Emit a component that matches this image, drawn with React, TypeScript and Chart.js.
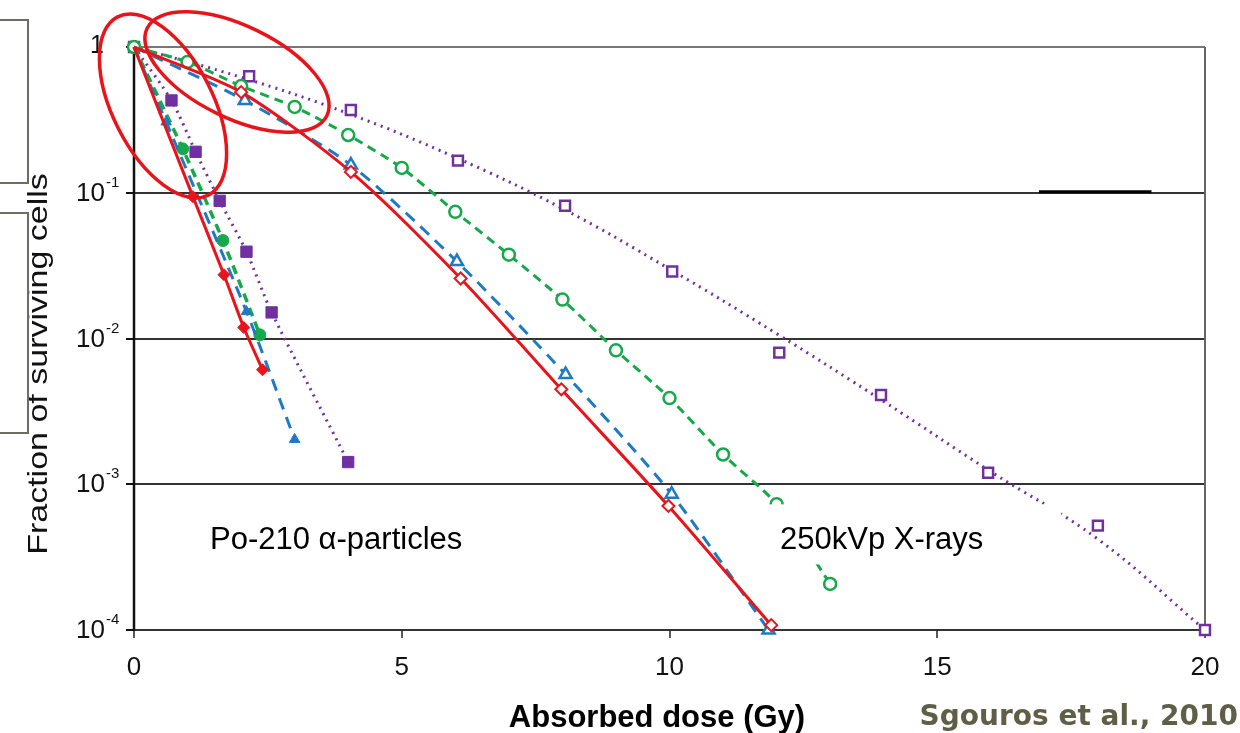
import { useEffect, useRef } from 'react';
import { Chart, registerables } from 'chart.js';

Chart.register(...registerables);

// ---- Data ----
// X-ray (250kVp) curves: measured points
const xPurpleDose = [0, 2.15, 4.05, 6.05, 8.05, 10.05, 12.05, 13.95, 15.95, 18.0, 20];
const xPurpleSurv = [1, 0.63, 0.37, 0.166, 0.0815, 0.0288, 0.008, 0.0041, 0.0012, 0.00052, 0.0001];
// X-ray purple fitted (dotted) curve
const xPurpleFitDose = [0, 2, 4, 6, 8, 10, 12, 14, 16, 18, 20];
const xPurpleFitSurv = [1, 0.62, 0.35, 0.175, 0.078, 0.03, 0.0108, 0.0037, 0.00122, 0.00042, 0.0001];

const xGreenDose = [0, 1, 2, 3, 4, 5, 6, 7, 8, 9, 10, 11, 12, 13];
const xGreenSurv = [1, 0.79, 0.54, 0.388, 0.249, 0.148, 0.074, 0.0376, 0.0185, 0.0083, 0.0039, 0.0016, 0.00073, 0.000207];

const xBlueDose = [0, 2.07, 4.05, 6.03, 8.06, 10.04, 11.85];
const xBlueSurv = [1, 0.43, 0.155, 0.0337, 0.00566, 0.000855, 0.0001];

const xRedDose = [0, 2, 4.05, 6.1, 7.98, 9.98, 11.9];
const xRedSurv = [1, 0.49, 0.139, 0.0258, 0.00448, 0.00071, 0.000108];

// Po-210 alpha-particle curves
const aPurpleDose = [0, 0.7, 1.15, 1.6, 2.1, 2.57, 4.0];
const aPurpleSurv = [1, 0.43, 0.191, 0.088, 0.0394, 0.0151, 0.00142];

const aGreenDose = [0, 0.91, 1.66, 2.35];
const aGreenSurv = [1, 0.2, 0.047, 0.0106];

const aBlueDose = [0, 0.6, 2.1, 3.0];
const aBlueSurv = [1, 0.306, 0.0153, 0.00203];

const aRedDose = [0, 1.1, 1.68, 2.05, 2.4];
const aRedSurv = [1, 0.094, 0.0274, 0.0119, 0.0061];

// Axis ticks
const X_TICKS = [0, 5, 10, 15, 20];
const Y_EXPONENTS = [0, -1, -2, -3, -4];

// Text
const Y_TITLE = 'Fraction of surviving cells';
const X_TITLE = 'Absorbed dose (Gy)';
const CITATION = 'Sgouros et al., 2010';
const ALPHA_LABEL = 'Po-210 \u03b1-particles';
const XRAY_LABEL = '250kVp X-rays';

const PURPLE = '#7030a0';
const GREEN = '#17a84a';
const BLUE = '#1f7ac4';
const RED = '#e8141b';
const SANS = '"Liberation Sans", Arial, sans-serif';

const pts = (xs: number[], ys: number[]) => xs.map((x, i) => ({ x, y: ys[i] }));

const decor = {
  id: 'decor',
  beforeDatasetsDraw(chart: any) {
    const { ctx, chartArea: a, scales } = chart;
    const x = scales.x;
    const y = scales.y;
    ctx.save();
    Y_EXPONENTS.forEach((e) => {
      const py = Math.round(y.getPixelForValue(Math.pow(10, e)));
      ctx.beginPath();
      ctx.strokeStyle = e === 0 ? '#777' : '#333';
      ctx.lineWidth = 2;
      ctx.moveTo(a.left, py);
      ctx.lineTo(a.right, py);
      ctx.stroke();
      ctx.beginPath();
      ctx.strokeStyle = '#111';
      ctx.moveTo(a.left - 8, py);
      ctx.lineTo(a.left, py);
      ctx.stroke();
    });
    ctx.beginPath();
    ctx.strokeStyle = '#666';
    ctx.lineWidth = 2;
    ctx.moveTo(a.right, a.top);
    ctx.lineTo(a.right, a.bottom);
    ctx.stroke();
    ctx.beginPath();
    ctx.strokeStyle = '#111';
    ctx.lineWidth = 2.5;
    ctx.moveTo(a.left, a.top);
    ctx.lineTo(a.left, a.bottom + 1);
    ctx.stroke();
    X_TICKS.forEach((v) => {
      const px = Math.round(x.getPixelForValue(v));
      ctx.beginPath();
      ctx.strokeStyle = '#222';
      ctx.lineWidth = 1.5;
      ctx.moveTo(px, a.bottom);
      ctx.lineTo(px, a.bottom + 8);
      ctx.stroke();
    });
    ctx.beginPath();
    ctx.strokeStyle = '#000';
    ctx.lineWidth = 3;
    ctx.moveTo(x.getPixelForValue(16.9), y.getPixelForValue(0.1) - 1);
    ctx.lineTo(x.getPixelForValue(19.0), y.getPixelForValue(0.1) - 1);
    ctx.stroke();
    ctx.restore();
  },
  afterDatasetsDraw(chart: any) {
    const { ctx, chartArea: a, scales } = chart;
    const x = scales.x;
    const y = scales.y;
    ctx.save();
    ctx.fillStyle = '#fff';
    const lx = x.getPixelForValue(11.9);
    const ly = y.getPixelForValue(0.0008);
    ctx.fillRect(lx - 12, ly + 6, 302, 60);
    ctx.fillStyle = '#000';
    ctx.font = `31px ${SANS}`;
    ctx.textBaseline = 'middle';
    ctx.textAlign = 'left';
    ctx.fillText(XRAY_LABEL, 780, 540);
    ctx.fillText(ALPHA_LABEL, 210, 540);

    Y_EXPONENTS.forEach((e) => {
      const py = y.getPixelForValue(Math.pow(10, e));
      ctx.fillStyle = '#111';
      ctx.textBaseline = 'middle';
      if (e === 0) {
        ctx.font = `25px ${SANS}`;
        ctx.textAlign = 'right';
        ctx.fillText('1', a.left - 30, py - 1);
      } else {
        ctx.font = `26px ${SANS}`;
        ctx.textAlign = 'right';
        ctx.fillText('10', a.left - 29, py + 1);
        ctx.font = `15px ${SANS}`;
        ctx.textAlign = 'left';
        ctx.fillText(String(e), a.left - 28, py - 10);
      }
    });
    ctx.font = `26px ${SANS}`;
    ctx.textAlign = 'center';
    ctx.textBaseline = 'middle';
    X_TICKS.forEach((v) => {
      ctx.fillText(String(v), x.getPixelForValue(v), a.bottom + 38);
    });
    ctx.font = `bold 31px ${SANS}`;
    ctx.fillStyle = '#000';
    ctx.fillText(X_TITLE, 657, 718);
    ctx.font = `bold 28px "DejaVu Sans", Verdana, sans-serif`;
    ctx.fillStyle = '#5f5e46';
    ctx.textAlign = 'right';
    ctx.fillText(CITATION, 1238, 718);

    ctx.save();
    ctx.translate(39, 364);
    ctx.rotate(-Math.PI / 2);
    ctx.scale(1, 0.82);
    ctx.font = `34px ${SANS}`;
    ctx.fillStyle = '#111';
    ctx.textAlign = 'center';
    ctx.textBaseline = 'middle';
    ctx.fillText(Y_TITLE, 0, 0);
    ctx.restore();

    ctx.strokeStyle = '#6e6e60';
    ctx.lineWidth = 2;
    ctx.strokeRect(-2, 20, 30, 163);
    ctx.strokeRect(-2, 213, 30, 220);

    ctx.strokeStyle = RED;
    ctx.lineWidth = 3.5;
    ctx.beginPath();
    ctx.ellipse(163, 106, 100, 50, (63 * Math.PI) / 180, 0, Math.PI * 2);
    ctx.stroke();
    ctx.beginPath();
    ctx.ellipse(237, 72, 100, 46, (26 * Math.PI) / 180, 0, Math.PI * 2);
    ctx.stroke();
    ctx.restore();
  },
};

export default function App() {
  const ref = useRef<HTMLCanvasElement>(null);
  useEffect(() => {
    document.body.style.margin = '0';
    const base = { showLine: true, clip: false as any, tension: 0.25 };
    const chart = new Chart(ref.current as HTMLCanvasElement, {
      type: 'scatter',
      data: {
        datasets: [
          {
            ...base,
            data: pts(aRedDose, aRedSurv),
            borderColor: RED,
            backgroundColor: RED,
            borderWidth: 3,
            pointStyle: 'rectRot',
            pointRadius: [0, 6, 6, 6, 6],
            pointBorderWidth: 1,
          },
          {
            ...base,
            data: pts(xRedDose, xRedSurv),
            borderColor: RED,
            backgroundColor: '#fff',
            borderWidth: 3,
            pointStyle: 'rectRot',
            pointRadius: [0, 6, 6, 6, 6, 6, 6],
            pointBorderWidth: 2,
          },
          {
            ...base,
            data: pts(aBlueDose, aBlueSurv),
            borderColor: BLUE,
            backgroundColor: BLUE,
            borderWidth: 3,
            borderDash: [12, 8],
            pointStyle: 'triangle',
            pointRadius: [0, 6, 6, 6],
            pointBorderWidth: 1,
          },
          {
            ...base,
            data: pts(xBlueDose, xBlueSurv),
            borderColor: BLUE,
            backgroundColor: '#fff',
            borderWidth: 3,
            borderDash: [12, 8],
            pointStyle: 'triangle',
            pointRadius: [0, 7, 7, 7, 7, 7, 7],
            pointBorderWidth: 2.5,
          },
          {
            ...base,
            data: pts(aGreenDose, aGreenSurv),
            borderColor: GREEN,
            backgroundColor: GREEN,
            borderWidth: 3.5,
            borderDash: [9, 6],
            pointStyle: 'circle',
            pointRadius: [0, 6, 6, 6],
            pointBorderWidth: 1,
          },
          {
            ...base,
            data: pts(xGreenDose, xGreenSurv),
            borderColor: GREEN,
            backgroundColor: '#fff',
            borderWidth: 3,
            borderDash: [9, 6],
            pointStyle: 'circle',
            pointRadius: 6,
            pointBorderWidth: 2.5,
          },
          {
            ...base,
            data: pts(aPurpleDose, aPurpleSurv),
            borderColor: PURPLE,
            backgroundColor: PURPLE,
            borderWidth: 3,
            borderDash: [2, 5],
            pointStyle: 'rect',
            pointRadius: [0, 8, 8, 8, 8, 8, 8],
            pointBorderWidth: 1,
          },
          {
            ...base,
            showLine: false,
            data: pts(xPurpleDose, xPurpleSurv),
            borderColor: PURPLE,
            backgroundColor: '#fff',
            pointStyle: 'rect',
            pointRadius: 7,
            pointBorderWidth: 2.5,
          },
          {
            ...base,
            data: pts(xPurpleFitDose, xPurpleFitSurv),
            borderColor: PURPLE,
            borderWidth: 3,
            borderDash: [2, 5],
            tension: 0.4,
            pointRadius: 0,
          },
        ],
      },
      options: {
        animation: false,
        responsive: false,
        events: [],
        layout: { padding: { left: 134, top: 47, right: 35, bottom: 103 } },
        plugins: { legend: { display: false }, tooltip: { enabled: false } },
        scales: {
          x: { type: 'linear', min: 0, max: 20, display: false },
          y: { type: 'logarithmic', min: 0.0001, max: 1, display: false },
        },
      },
      plugins: [decor],
    });
    return () => chart.destroy();
  }, []);
  return (
    <div style={{ width: 1240, height: 733, background: '#fff' }}>
      <canvas ref={ref} width={1240} height={733} style={{ display: 'block' }} />
    </div>
  );
}
